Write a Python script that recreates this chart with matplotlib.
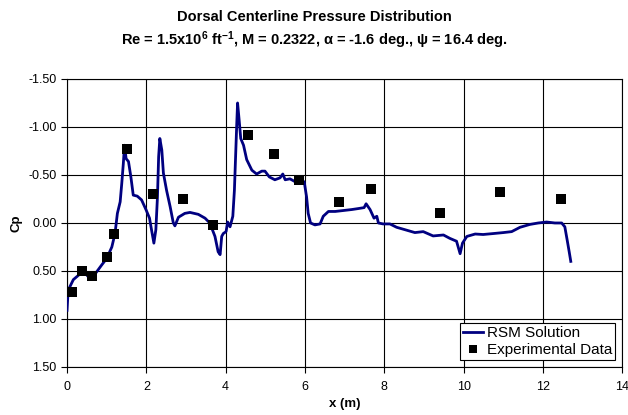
import numpy as np
import matplotlib
matplotlib.use("Agg")
from matplotlib import pyplot as plt

plt.rcParams['font.family'] = ['Liberation Sans', 'DejaVu Sans']
plt.rcParams['mathtext.fontset'] = 'custom'
plt.rcParams['mathtext.rm'] = 'Liberation Sans:bold'
plt.rcParams['mathtext.it'] = 'Liberation Sans:bold'
plt.rcParams['mathtext.bf'] = 'Liberation Sans:bold'

# RSM solution
x_rsm = [0.00, 0.03, 0.16, 0.33, 0.45, 0.58, 0.71, 0.87, 1.00, 1.13, 1.21, 1.27,
         1.34, 1.38, 1.42, 1.45, 1.49, 1.55, 1.61, 1.67, 1.77, 1.88, 1.99, 2.08,
         2.13, 2.19, 2.24, 2.28, 2.31, 2.34, 2.39, 2.43, 2.51, 2.60, 2.68, 2.72,
         2.81, 2.97, 3.10, 3.31, 3.48, 3.60, 3.73, 3.81, 3.86, 3.90, 3.94, 4.01,
         4.05, 4.11, 4.18, 4.22, 4.25, 4.28, 4.30, 4.34, 4.38, 4.45, 4.53, 4.66,
         4.78, 4.91, 4.99, 5.10, 5.24, 5.37, 5.44, 5.50, 5.62, 5.75, 5.87, 5.98,
         6.04, 6.08, 6.14, 6.25, 6.38, 6.46, 6.59, 6.76, 6.97, 7.18, 7.34, 7.49,
         7.54, 7.64, 7.74, 7.81, 7.85, 7.97, 8.14, 8.31, 8.52, 8.77, 8.98, 9.23,
         9.49, 9.65, 9.82, 9.91, 9.97, 10.08, 10.29, 10.49, 10.75, 11.00, 11.21,
         11.42, 11.67, 11.88, 12.09, 12.30, 12.47, 12.55, 12.61, 12.66, 12.70]
cp_rsm = [0.91, 0.70, 0.59, 0.53, 0.52, 0.58, 0.53, 0.44, 0.37, 0.25, 0.11, -0.10,
          -0.22, -0.41, -0.62, -0.81, -0.67, -0.64, -0.48, -0.29, -0.28, -0.24, -0.14, -0.05,
          0.07, 0.21, 0.07, -0.27, -0.69, -0.88, -0.76, -0.52, -0.34, -0.17, 0.00, 0.03,
          -0.06, -0.10, -0.11, -0.09, -0.05, 0.00, 0.14, 0.30, 0.33, 0.14, 0.11, 0.09,
          -0.01, 0.04, -0.07, -0.34, -0.69, -1.04, -1.25, -1.07, -0.88, -0.81, -0.66, -0.55,
          -0.51, -0.54, -0.54, -0.48, -0.45, -0.47, -0.51, -0.45, -0.46, -0.43, -0.42, -0.43,
          -0.27, -0.10, 0.00, 0.02, 0.01, -0.07, -0.12, -0.12, -0.13, -0.14, -0.15, -0.16,
          -0.20, -0.14, -0.05, -0.07, 0.00, 0.01, 0.01, 0.045, 0.07, 0.10, 0.09, 0.135,
          0.125, 0.16, 0.19, 0.32, 0.21, 0.14, 0.115, 0.12, 0.11, 0.10, 0.09,
          0.045, 0.015, 0.00, -0.01, 0.00, 0.00, 0.04, 0.18, 0.30, 0.40]

# experimental data
x_exp = [0.12, 0.39, 0.64, 1.02, 1.19, 1.51, 2.16, 2.92, 3.69, 4.57, 5.21, 5.85,
         6.86, 7.67, 9.40, 10.92, 12.45]
cp_exp = [0.72, 0.50, 0.55, 0.35, 0.12, -0.77, -0.30, -0.25, 0.02, -0.92, -0.72, -0.45,
          -0.22, -0.35, -0.10, -0.32, -0.25]

fig = plt.figure(figsize=(6.28, 4.15), dpi=100)
ax = fig.add_axes([0.1067, 0.1157, 0.8843, 0.694])

ax.plot(x_rsm, cp_rsm, color='#000080', lw=2.0, label='RSM Solution', zorder=3)
ax.plot(x_exp, cp_exp, 's', color='black', ms=6.5, mew=0, label='Experimental Data', zorder=4)

ax.set_xlim(0, 14)
ax.set_ylim(1.5, -1.5)
ax.set_xticks(np.arange(0, 15, 2))
ax.set_yticks(np.arange(-1.5, 1.51, 0.5))
ax.set_yticklabels(['%.2f' % v for v in np.arange(-1.5, 1.51, 0.5)])
ax.grid(True, color='black', lw=0.8)
ax.set_axisbelow(True)
ax.tick_params(labelsize=9, direction='out', length=4, width=0.8)
ax.tick_params(axis='x', pad=6)
for s in ax.spines.values():
    s.set_linewidth(0.8)

ax.set_xlabel('x (m)', fontsize=9.5, fontweight='bold', labelpad=4)
ax.set_ylabel('Cp', fontsize=9.5, fontweight='bold')

fig.text(0.5, 0.958, 'Dorsal Centerline Pressure Distribution', ha='center', va='center',
         fontsize=10.5, fontweight='bold')
fig.text(0.5, 0.902, r'Re = 1.5x10$^{6}$ ft$^{\mathrm{-1}}$, M = 0.2322, $\alpha$ = -1.6 deg., $\psi$ = 16.4 deg.',
         ha='center', va='center', fontsize=10.5, fontweight='bold')

leg = ax.legend(loc='lower right', fontsize=11, frameon=True, fancybox=False,
                edgecolor='black', framealpha=1, borderaxespad=0.45,
                handlelength=1.3, handletextpad=0.25, borderpad=0.2,
                labelspacing=0.2, markerscale=0.8)
leg.get_frame().set_linewidth(0.8)

fig.savefig('out.png', dpi=100)
